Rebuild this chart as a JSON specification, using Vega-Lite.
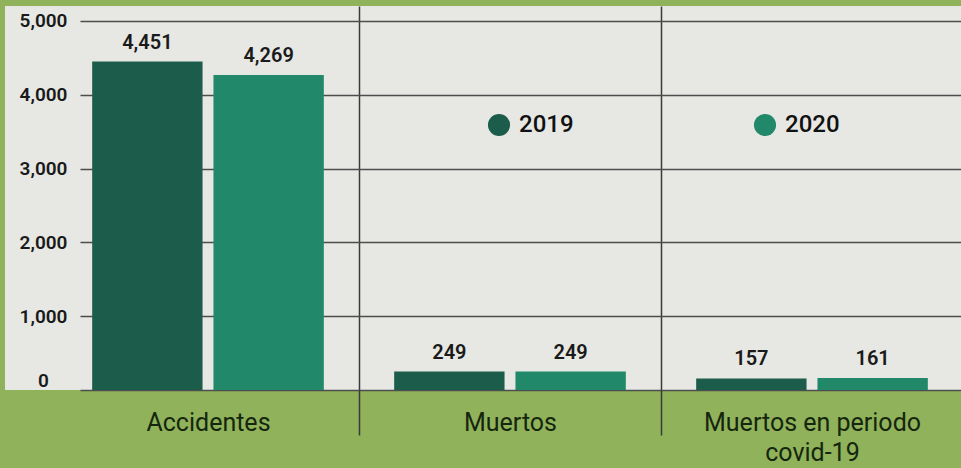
{
  "$schema": "https://vega.github.io/schema/vega-lite/v6.json",
  "width": 956,
  "height": 384,
  "autosize": {"type": "none"},
  "padding": {"left": 5, "top": 6, "right": 0, "bottom": 78},
  "background": "#8fb25a",
  "config": {"view": {"fill": "#e7e8e4", "stroke": null}, "font": "Roboto"},
  "data": {
    "values": [
      {"categoria": "Accidentes", "anio": "2019", "valor": 4451},
      {"categoria": "Accidentes", "anio": "2020", "valor": 4269},
      {"categoria": "Muertos", "anio": "2019", "valor": 249},
      {"categoria": "Muertos", "anio": "2020", "valor": 249},
      {"categoria": "Muertos en periodo covid-19", "anio": "2019", "valor": 157},
      {"categoria": "Muertos en periodo covid-19", "anio": "2020", "valor": 161}
    ]
  },
  "resolve": {"scale": {"x": "independent", "xOffset": "independent"}},
  "layer": [
    {
      "mark": {"type": "bar", "opacity": 0},
      "encoding": {
        "x": {"field": "categoria", "type": "nominal", "sort": null, "scale": {"range": [75, 956], "paddingInner": 0, "paddingOuter": 0}, "axis": null},
        "y": {
          "field": "valor", "type": "quantitative",
          "scale": {"domain": [0, 5203], "nice": false},
          "axis": {
            "title": null,
            "values": [0, 1000, 2000, 3000, 4000, 5000],
            "format": ",d",
            "offset": -75,
            "domain": false,
            "ticks": false,
            "grid": true,
            "gridColor": "#4d4d4d",
            "gridWidth": 1.5,
            "labelAlign": "center",
            "labelPadding": 37,
            "labelBaseline": {"condition": {"test": "datum.value === 0", "value": "bottom"}, "value": "middle"},
            "labelFontSize": 19,
            "labelFontWeight": 600,
            "labelColor": "#1a1a1a",
            "labelFont": "Roboto"
          }
        }
      }
    },
    {
      "encoding": {
        "x": {
          "field": "categoria", "type": "nominal", "sort": null,
          "scale": {"range": [52, 958], "paddingInner": 0, "paddingOuter": 0},
          "axis": {
            "title": null,
            "orient": "bottom",
            "domain": false,
            "tickBand": "extent",
            "ticks": true,
            "tickSize": 45,
            "tickWidth": 1.5,
            "tickColor": {"condition": {"test": "datum.extra", "value": "transparent"}, "value": "#3a3a3a"},
            "grid": true,
            "gridWidth": 1.5,
            "gridColor": {"condition": {"test": "datum.extra", "value": "transparent"}, "value": "#3a3a3a"},
            "labelAngle": 0,
            "labelPadding": -25,
            "labelFontSize": 25,
            "labelColor": "#16260e",
            "labelFont": "Roboto",
            "labelLineHeight": 30,
            "labelLimit": 0,
            "labelExpr": "datum.label === 'Muertos en periodo covid-19' ? ['Muertos en periodo', 'covid-19'] : datum.label"
          }
        },
        "xOffset": {"field": "anio", "type": "nominal", "scale": {"paddingInner": 0.09, "paddingOuter": 0.29}},
        "y": {"field": "valor", "type": "quantitative"}
      },
      "layer": [
        {
          "mark": {"type": "bar"},
          "encoding": {
            "color": {
              "field": "anio", "type": "nominal",
              "scale": {"range": ["#1c5c4a", "#22886a"]},
              "legend": {
                "orient": "none",
                "legendX": 482,
                "legendY": 107,
                "direction": "horizontal",
                "columns": 2,
                "columnPadding": 179,
                "title": null,
                "padding": 0,
                "symbolType": "circle",
                "symbolSize": 490,
                "symbolStrokeWidth": 0,
                "labelFontSize": 24,
                "labelFont": "Roboto",
                "labelFontWeight": 500,
                "labelColor": "#111111",
                "labelOffset": 8
              }
            }
          }
        },
        {
          "mark": {"type": "text", "baseline": "alphabetic", "dy": -13, "fontSize": 20, "fontWeight": 600, "color": "#1a1a1a", "font": "Roboto"},
          "encoding": {
            "text": {"field": "valor", "type": "quantitative", "format": ",d"}
          }
        }
      ]
    }
  ]
}
